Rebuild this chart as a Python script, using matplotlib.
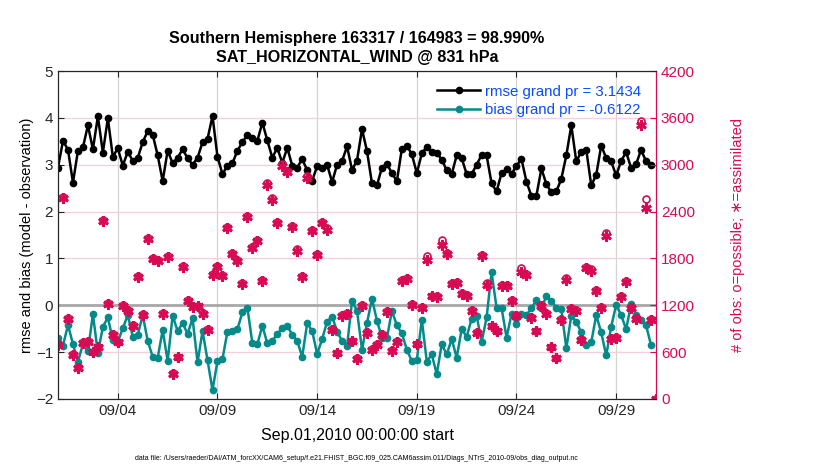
import numpy as np
import pandas as pd
import matplotlib
matplotlib.use('Agg')
import matplotlib.pyplot as plt
import matplotlib.dates as mdates

plt.rcParams['font.family'] = ['Liberation Sans', 'DejaVu Sans']

# 6-hourly bins, Sep 1 00Z .. Oct 1 00Z
times = pd.date_range('2010-09-01 00:00', periods=121, freq='6h')

rmse = [2.94, 3.51, 3.32, 2.62, 3.30, 3.37, 3.84, 3.33, 4.03, 3.26, 3.99, 3.17, 3.35, 2.98, 3.28, 3.08, 3.15, 3.48, 3.72, 3.64, 3.20,
        2.65, 3.30, 3.03, 3.15, 3.33, 3.14, 3.00, 3.15, 3.48, 3.55, 4.04, 3.17, 2.80, 2.98, 3.03, 3.30, 3.48, 3.64, 3.58, 3.51,
        3.90, 3.52, 3.15, 3.36, 3.04, 3.36, 2.98, 2.94, 3.12, 2.88, 2.66, 2.97, 2.92, 3.00, 2.63, 3.00, 3.08, 3.39, 2.89, 3.09,
        3.76, 3.29, 2.60, 2.56, 2.94, 3.02, 2.82, 2.65, 3.34, 3.41, 3.22, 2.82, 3.24, 3.38, 3.27, 3.25, 3.11, 2.88, 2.80, 3.20,
        3.14, 2.80, 2.80, 3.00, 3.21, 3.20, 2.60, 2.43, 2.82, 2.90, 2.80, 2.98, 3.12, 2.64, 2.33, 2.34, 2.92, 2.58, 2.41, 2.43,
        2.70, 3.20, 3.84, 3.07, 3.28, 3.32, 2.56, 2.78, 3.41, 3.14, 3.07, 2.77, 3.08, 3.27, 2.93, 3.01, 3.32, 3.07, 3.00, np.nan]

bias = [-0.69, -0.86, -0.42, -0.83, -1.20, -0.83, -0.98, -0.19, -1.02, -0.46, -0.26, -0.74, -0.78, -0.49, -0.21, -0.67, -0.63, -0.21, -0.76, -1.10, -1.12,
        -0.53, -1.19, -0.22, -0.55, -0.38, -0.61, -0.28, -1.22, -0.55, -1.17, -1.81, -1.19, -1.15, -0.56, -0.54, -0.51, -0.15, -0.05, -0.81, -0.83,
        -0.44, -0.81, -0.76, -0.61, -0.49, -0.44, -0.63, -0.76, -1.10, -0.38, -0.55, -1.04, -0.72, -0.35, -0.24, -0.56, -0.76, -0.87, 0.09, -0.12,
        -0.95, -0.38, 0.14, -0.33, -0.69, -0.70, -0.12, -0.43, -0.60, -0.95, -1.19, -1.17, -0.31, -1.20, -1.05, -1.47, -0.83, -1.05, -0.72, -1.12,
        -0.51, -0.67, -0.29, -0.22, -0.79, -0.26, 0.70, -0.05, -0.05, -0.69, -0.19, -0.41, -0.19, -0.21, -0.06, 0.11, -0.05, 0.19, 0.09, -0.05,
        -0.08, -0.92, -0.22, -0.35, -0.58, -0.85, -0.79, -0.21, -0.58, -1.07, -0.46, 0.01, -0.21, -0.51, 0.02, -0.21, -0.31, -0.43, -0.85, np.nan]

n_possible = [705, 2590, 1040, 575, 405, 725, 740, 605, 670, 2290, 1230, 830, 735, 1205, 1135, 950, 1570, 1090, 2065, 1810, 1785,
              1100, 1830, 330, 540, 1700, 1270, 1185, 1195, 1100, 895, 1600, 1700, 1585, 2205, 1870, 1785, 1485, 2345, 1950, 2040,
              1520, 2760, 2570, 2270, 3005, 2925, 2215, 1915, 1570, 2850, 2170, 1855, 2270, 2185, 895, 595, 1070, 1100, 745, 520,
              1205, 855, 640, 705, 830, 1125, 625, 740, 1520, 1555, 1220, 710, 1175, 1830, 1325, 1315, 2030, 1870, 1485, 1500,
              1355, 1330, 1140, 855, 1840, 1480, 940, 875, 1455, 1455, 1270, 1070, 1680, 1600, 1045, 875, 1200, 1100, 670, 530,
              1025, 1545, 1170, 1135, 770, 1695, 1660, 1390, 1175, 2130, 780, 790, 1315, 1515, 1175, 1040, 3560, 2560, 1025, 0]

n_assim = [696, 2575, 1029, 568, 397, 717, 730, 598, 662, 2276, 1217, 824, 726, 1196, 1123, 939, 1559, 1080, 2050, 1798, 1772,
           1089, 1815, 320, 534, 1687, 1260, 1174, 1187, 1089, 888, 1584, 1687, 1571, 2190, 1857, 1772, 1473, 2327, 1934, 2028,
           1507, 2746, 2553, 2255, 2989, 2908, 2203, 1900, 1559, 2831, 2156, 1840, 2255, 2169, 888, 589, 1059, 1089, 739, 512,
           1196, 845, 632, 696, 824, 1114, 619, 730, 1507, 1541, 1208, 704, 1166, 1785, 1315, 1302, 1977, 1857, 1473, 1486,
           1345, 1315, 1131, 845, 1828, 1465, 931, 867, 1443, 1443, 1260, 1059, 1627, 1584, 1038, 867, 1187, 1089, 662, 525,
           1016, 1529, 1157, 1123, 760, 1678, 1644, 1379, 1166, 2084, 773, 781, 1302, 1499, 1166, 1029, 3506, 2447, 1016, 0]

tick_days = ['2010-09-04', '2010-09-09', '2010-09-14', '2010-09-19', '2010-09-24', '2010-09-29']
left_ticks = [-2, -1, 0, 1, 2, 3, 4, 5]
right_ticks = [0, 600, 1200, 1800, 2400, 3000, 3600, 4200]

rmse_label = 'rmse grand pr = 3.1434'
bias_label = 'bias grand pr = -0.6122'
title_1 = 'Southern Hemisphere 163317 / 164983 = 98.990%'
title_2 = 'SAT_HORIZONTAL_WIND @ 831 hPa'
data_file = ('data file: /Users/raeder/DAI/ATM_forcXX/CAM6_setup/f.e21.FHIST_BGC.f09_025.'
             'CAM6assim.011/Diags_NTrS_2010-09/obs_diag_output.nc')

obs_color = '#d70a53'
bias_color = '#058a8a'

fig = plt.figure(figsize=(8.3, 4.7), dpi=100)
ax1 = fig.add_axes([0.0699, 0.1511, 0.7205, 0.6978])
ax2 = ax1.twinx()

# left axis: rmse and bias
ax1.axhline(0, color='#a8a8a8', linewidth=2.0, zorder=1)
ax1.plot(times, rmse, '-o', color='black', linewidth=1.8, markersize=4.5, zorder=3, label=rmse_label)
ax1.plot(times, bias, '-o', color=bias_color, linewidth=1.8, markersize=4.5, zorder=3, label=bias_label)

ax1.set_xlim(times[0], times[-1])
ax1.set_ylim(-2, 5)
ax1.set_yticks(left_ticks)
ax1.set_xticks(pd.to_datetime(tick_days))
ax1.xaxis.set_major_formatter(mdates.DateFormatter('%m/%d'))
ax1.grid(True, axis='x', color='#d4d4d4', linewidth=0.9)
ax1.grid(True, axis='y', color='#f6cfdc', linewidth=0.9)
ax1.set_axisbelow(True)
ax1.tick_params(direction='in', length=4, labelsize=11, top=True, colors='#262626')
ax1.set_ylabel('rmse and bias (model - observation)', fontsize=10.5, labelpad=1)
ax1.set_xlabel('Sep.01,2010 00:00:00 start', fontsize=11.5, labelpad=7)

# right axis: observation counts
ax2.plot(times, n_possible, linestyle='none', marker='o', markersize=5, markerfacecolor='none',
         markeredgecolor=obs_color, markeredgewidth=1.2)
ax2.plot(times, n_assim, linestyle='none', marker=(6, 2, 0), markersize=7.5,
         markeredgecolor=obs_color, markeredgewidth=2.0)
ax2.set_ylim(0, 4200)
ax2.set_yticks(right_ticks)
ax2.tick_params(direction='in', length=4, labelsize=11, colors=obs_color)
ax2.set_ylabel('# of obs: o=possible; \u2217=assimilated', fontsize=10.5, color=obs_color, labelpad=26)
ax2.spines['right'].set_color(obs_color)
for side in ['left', 'top', 'bottom']:
    ax2.spines[side].set_color('#262626')

leg = ax1.legend(loc='upper right', bbox_to_anchor=(0.995, 0.995), frameon=False, fontsize=10.8,
                 handlelength=2.9, handletextpad=0.3, borderpad=0.3, labelspacing=0.3, labelcolor='#0a4bff')

fig.text(0.43, 0.908, title_1, ha='center', fontsize=11.6, fontweight='bold')
fig.text(0.43, 0.868, title_2, ha='center', fontsize=11.6, fontweight='bold')
fig.text(0.43, 0.022, data_file, ha='center', fontsize=5)

fig.savefig('out.png', dpi=100, facecolor='white')
